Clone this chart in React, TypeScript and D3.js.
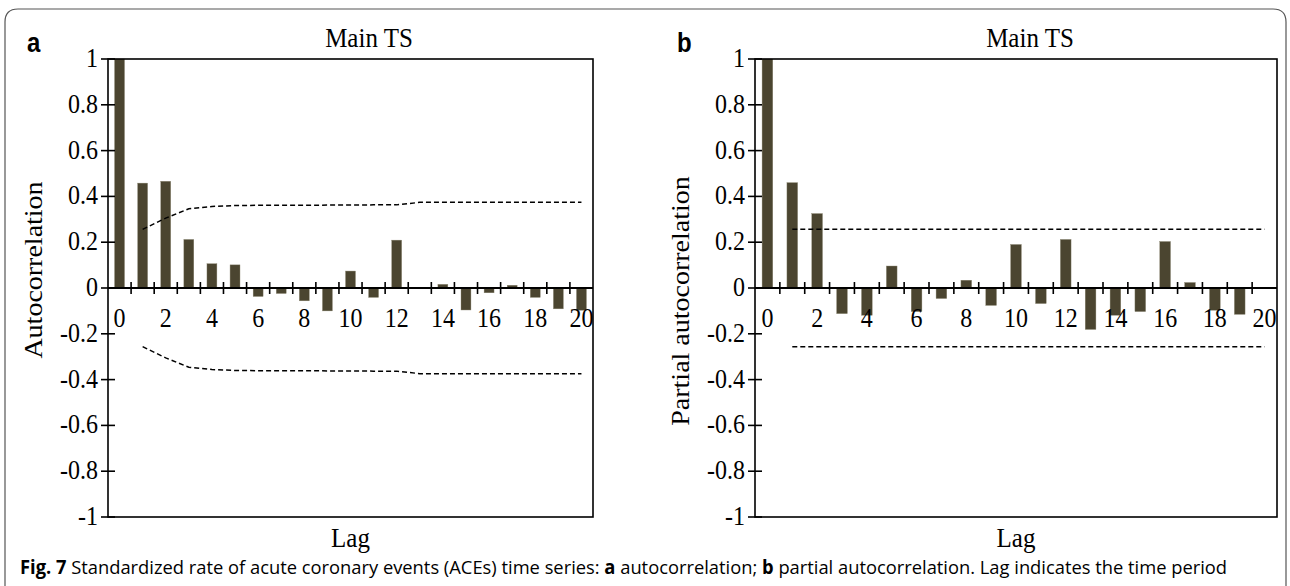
import React, { useLayoutEffect, useRef, useState } from "react";
import * as d3 from "d3";

const lags = ["0","1","2","3","4","5","6","7","8","9","10","11","12","13","14","15","16","17","18","19","20"];
const acfValues = [1, 0.458, 0.466, 0.212, 0.106, 0.101, -0.037, -0.024, -0.056, -0.1, 0.074, -0.041, 0.209, 0.002, 0.016, -0.096, -0.021, 0.012, -0.041, -0.091, -0.097];
const pacfValues = [1, 0.46, 0.325, -0.112, -0.119, 0.096, -0.103, -0.046, 0.034, -0.076, 0.19, -0.068, 0.212, -0.181, -0.119, -0.103, 0.203, 0.024, -0.097, -0.115, 0];
const boundLags = ["1","2","3","4","5","6","7","8","9","10","11","12","13","14","15","16","17","18","19","20"];
const acfBound = [0.256, 0.305, 0.346, 0.356, 0.36, 0.361, 0.361, 0.361, 0.362, 0.362, 0.363, 0.363, 0.374, 0.374, 0.374, 0.374, 0.374, 0.374, 0.374, 0.374];
const pacfBound = [0.257, 0.257, 0.257, 0.257, 0.257, 0.257, 0.257, 0.257, 0.257, 0.257, 0.257, 0.257, 0.257, 0.257, 0.257, 0.257, 0.257, 0.257, 0.257, 0.257];
const yTicks = [1, 0.8, 0.6, 0.4, 0.2, 0, -0.2, -0.4, -0.6, -0.8, -1];
const xLabelLags = ["0","2","4","6","8","10","12","14","16","18","20"];

const SERIF = "'Liberation Serif', 'Times New Roman', serif";
const SANS = "'Liberation Sans', Arial, sans-serif";
const BAR = "#4b4530";
const STRETCH = 1.12;

type PanelProps = {
  left: number; right: number; top: number; bottom: number;
  values: number[]; bound: number[]; letter: string; ylabel: string;
  ylabelX: number; ylabelY: number; titleX: number; letterX: number;
};

function Panel(p: PanelProps) {
  const x = d3.scaleBand<string>().domain(lags).range([p.left, p.right]).paddingInner(0.57).paddingOuter(0.285);
  const y = d3.scaleLinear().domain([-1, 1]).range([p.bottom, p.top]);
  const step = x.step();
  const cx = (l: string) => (x(l) as number) + x.bandwidth() / 2;
  const y0 = y(0);
  const lineU = d3.line<number>().x((_, i) => cx(boundLags[i])).y((v) => y(v));
  const lineL = d3.line<number>().x((_, i) => cx(boundLags[i])).y((v) => y(-v));
  const sText = (tx: number, ty: number) => `translate(${tx},${ty}) scale(1,${STRETCH})`;
  return (
    <g>
      <text transform={sText(p.letterX, 52)} fontFamily={SANS} fontWeight="bold" fontSize={24}>{p.letter}</text>
      <text transform={sText(p.titleX, 47)} fontFamily={SERIF} fontSize={25} textAnchor="middle">Main TS</text>
      <text transform={`translate(${p.ylabelX},${p.ylabelY}) rotate(-90) scale(${STRETCH},1)`} fontFamily={SERIF} fontSize={25} textAnchor="middle">{p.ylabel}</text>
      <text transform={sText((p.left + p.right) / 2, 547)} fontFamily={SERIF} fontSize={25} textAnchor="middle">Lag</text>
      {p.values.map((v, i) => (
        <rect key={i} x={x(lags[i])} width={x.bandwidth()} y={Math.min(y(v), y0)} height={Math.abs(y(v) - y0)} fill={BAR} stroke="#8a8570" strokeWidth={0.4} />
      ))}
      <rect x={p.left} y={p.top} width={p.right - p.left} height={p.bottom - p.top} fill="none" stroke="#000" strokeWidth={1.6} />
      <line x1={p.left} x2={p.right} y1={y0} y2={y0} stroke="#000" strokeWidth={2} />
      {yTicks.map((t) => (
        <g key={t}>
          <line x1={p.left - 7} x2={p.left + 7} y1={y(t)} y2={y(t)} stroke="#000" strokeWidth={1.6} />
          <text transform={sText(p.left - 10, y(t) + 8)} fontFamily={SERIF} fontSize={24} textAnchor="end">{t}</text>
        </g>
      ))}
      {lags.slice(1).map((l) => (
        <line key={l} x1={cx(l) - step / 2} x2={cx(l) - step / 2} y1={y0 - 6} y2={y0 + 6} stroke="#000" strokeWidth={1.6} />
      ))}
      {xLabelLags.map((l) => (
        <text key={l} transform={sText(cx(l), y0 + 39)} fontFamily={SERIF} fontSize={24} textAnchor="middle">{l}</text>
      ))}
      <path d={lineU(p.bound) as string} fill="none" stroke="#000" strokeWidth={1.5} strokeDasharray="5,3" />
      <path d={lineL(p.bound) as string} fill="none" stroke="#000" strokeWidth={1.5} strokeDasharray="5,3" />
    </g>
  );
}

function Caption() {
  const ref = useRef<SVGTextElement>(null);
  const [sx, setSx] = useState(1);
  useLayoutEffect(() => {
    if (ref.current) {
      const w = ref.current.getComputedTextLength();
      if (w > 0) setSx(1208 / w);
    }
  }, []);
  return (
    <g transform={`translate(20,574) scale(${sx},1)`}>
      <text ref={ref} x={0} y={0} fontFamily="'Open Sans', sans-serif" fontSize={19}>
        <tspan fontWeight="bold">Fig. 7</tspan>
        <tspan>{"  Standardized rate of acute coronary events (ACEs) time series: "}</tspan>
        <tspan fontWeight="bold">a</tspan>
        <tspan>{" autocorrelation; "}</tspan>
        <tspan fontWeight="bold">b</tspan>
        <tspan>{" partial autocorrelation. Lag indicates the time period"}</tspan>
      </text>
    </g>
  );
}

export default function App() {
  return (
    <svg width={1290} height={586} style={{ position: "absolute", left: 0, top: 0, background: "#fff" }}>
      <rect x={0} y={0} width={1290} height={586} fill="#fff" />
      <path d="M5,600 L5,22 Q5,9 18,9 L1273,9 Q1286,9 1286,22 L1286,600" fill="none" stroke="#555" strokeWidth={1.2} />
      <Panel left={108} right={593} top={59} bottom={517} values={acfValues} bound={acfBound} letter="a" ylabel="Autocorrelation" ylabelX={42} ylabelY={270} titleX={369} letterX={27} />
      <Panel left={755} right={1277} top={59} bottom={517} values={pacfValues} bound={pacfBound} letter="b" ylabel="Partial autocorrelation" ylabelX={689} ylabelY={301} titleX={1030} letterX={677} />
      <Caption />
    </svg>
  );
}
